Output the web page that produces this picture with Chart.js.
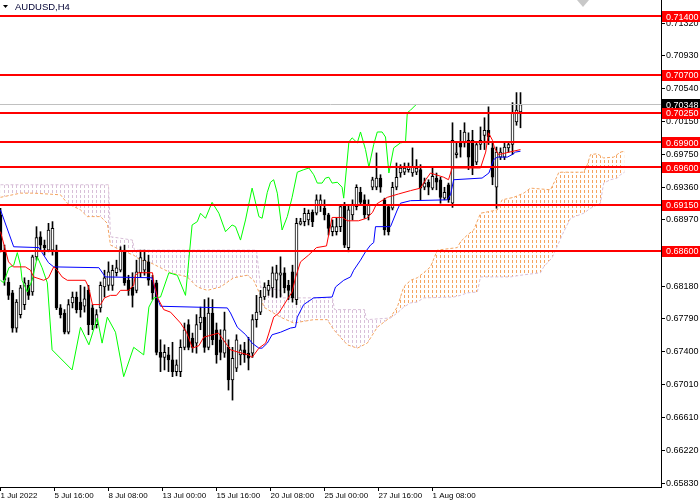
<!DOCTYPE html>
<html>
<head>
<meta charset="utf-8">
<title>AUDUSD,H4</title>
<script src="https://cdn.jsdelivr.net/npm/chart.js"></script>
<style>
html, body { margin: 0; padding: 0; background: #fff; }
#chart1 { display: block; }
</style>
</head>
<body>
<canvas id="chart1" width="700" height="500"></canvas>
<script>
"use strict";

var symbolTitle = 'AUDUSD,H4';

// bar k sits at index k, 4px apart
var opens = [
	0.6903, 0.6861, 0.6823, 0.6810, 0.6768, 0.6784, 0.6796, 0.6819, 0.6811, 0.6853,
	0.6877, 0.6867, 0.6861, 0.6861, 0.6861, 0.6792, 0.6786, 0.6763, 0.6798, 0.6805,
	0.6799, 0.6794, 0.6813, 0.6792, 0.6772, 0.6792, 0.6817, 0.6819, 0.6819, 0.6834,
	0.6837, 0.6861, 0.6825, 0.6817, 0.6813, 0.6834, 0.6837, 0.6847, 0.6825, 0.6822,
	0.6739, 0.6733, 0.6736, 0.6730, 0.6716, 0.6716, 0.6745, 0.6772, 0.6756, 0.6750,
	0.6774, 0.6781, 0.6745, 0.6786, 0.6766, 0.6754, 0.6738, 0.6745, 0.6706, 0.6720,
	0.6736, 0.6742, 0.6738, 0.6738, 0.6778, 0.6787, 0.6805, 0.6813, 0.6816, 0.6825,
	0.6831, 0.6834, 0.6819, 0.6835, 0.6802, 0.6892, 0.6895, 0.6897, 0.6906, 0.6905,
	0.6915, 0.6911, 0.6903, 0.6883, 0.6883, 0.6889, 0.6915, 0.6864, 0.6903, 0.6913,
	0.6930, 0.6921, 0.6903, 0.6936, 0.6936, 0.6947, 0.6921, 0.6913, 0.6911, 0.6936,
	0.6953, 0.6954, 0.6957, 0.6953, 0.6954, 0.6957, 0.6936, 0.6942, 0.6935, 0.6947,
	0.6945, 0.6923, 0.6939, 0.6917, 0.6975, 0.6989, 0.6989, 0.6992, 0.6992, 0.6966,
	0.6987, 0.6998, 0.7004, 0.6983, 0.6936, 0.6972, 0.6972, 0.6983, 0.6987, 0.7014,
	0.7026
];
var highs = [
	0.6911, 0.6867, 0.6828, 0.6813, 0.6802, 0.6819, 0.6828, 0.6825, 0.6855, 0.6889,
	0.6883, 0.6873, 0.6893, 0.6895, 0.6867, 0.6796, 0.6790, 0.6802, 0.6811, 0.6811,
	0.6819, 0.6817, 0.6819, 0.6796, 0.6790, 0.6823, 0.6837, 0.6847, 0.6843, 0.6849,
	0.6865, 0.6867, 0.6831, 0.6834, 0.6849, 0.6861, 0.6861, 0.6855, 0.6831, 0.6825,
	0.6754, 0.6748, 0.6745, 0.6751, 0.6730, 0.6754, 0.6774, 0.6778, 0.6762, 0.6784,
	0.6793, 0.6802, 0.6804, 0.6802, 0.6774, 0.6766, 0.6787, 0.6754, 0.6745, 0.6760,
	0.6748, 0.6751, 0.6757, 0.6784, 0.6807, 0.6813, 0.6822, 0.6825, 0.6841, 0.6843,
	0.6853, 0.6840, 0.6825, 0.6843, 0.6899, 0.6899, 0.6911, 0.6909, 0.6909, 0.6927,
	0.6927, 0.6921, 0.6905, 0.6897, 0.6899, 0.6915, 0.6918, 0.6915, 0.6921, 0.6939,
	0.6936, 0.6927, 0.6921, 0.6948, 0.6977, 0.6951, 0.6923, 0.6915, 0.6942, 0.6965,
	0.6963, 0.6965, 0.6965, 0.6983, 0.6969, 0.6963, 0.6947, 0.6945, 0.6959, 0.6953,
	0.6948, 0.6936, 0.6941, 0.7013, 0.6989, 0.7004, 0.7013, 0.7001, 0.7004, 0.6989,
	0.7008, 0.7019, 0.7032, 0.6989, 0.6984, 0.6983, 0.6989, 0.6989, 0.7037, 0.7049,
	0.7049
];
var lows = [
	0.6859, 0.6819, 0.6802, 0.6763, 0.6763, 0.6780, 0.6790, 0.6802, 0.6807, 0.6849,
	0.6861, 0.6855, 0.6859, 0.6855, 0.6790, 0.6780, 0.6761, 0.6761, 0.6792, 0.6786,
	0.6781, 0.6787, 0.6760, 0.6766, 0.6768, 0.6787, 0.6805, 0.6813, 0.6813, 0.6830,
	0.6835, 0.6819, 0.6807, 0.6793, 0.6810, 0.6829, 0.6831, 0.6819, 0.6802, 0.6736,
	0.6716, 0.6718, 0.6716, 0.6710, 0.6711, 0.6710, 0.6742, 0.6742, 0.6739, 0.6738,
	0.6766, 0.6739, 0.6742, 0.6748, 0.6726, 0.6730, 0.6733, 0.6694, 0.6682, 0.6716,
	0.6724, 0.6727, 0.6718, 0.6733, 0.6769, 0.6784, 0.6802, 0.6807, 0.6805, 0.6804,
	0.6805, 0.6810, 0.6802, 0.6799, 0.6796, 0.6891, 0.6890, 0.6891, 0.6889, 0.6903,
	0.6907, 0.6897, 0.6879, 0.6878, 0.6879, 0.6883, 0.6864, 0.6859, 0.6897, 0.6909,
	0.6915, 0.6899, 0.6897, 0.6933, 0.6933, 0.6930, 0.6879, 0.6879, 0.6909, 0.6933,
	0.6948, 0.6951, 0.6954, 0.6949, 0.6951, 0.6921, 0.6933, 0.6927, 0.6933, 0.6933,
	0.6917, 0.6921, 0.6918, 0.6912, 0.6971, 0.6972, 0.6984, 0.6957, 0.6951, 0.6963,
	0.6981, 0.6981, 0.6987, 0.6939, 0.6911, 0.6969, 0.6969, 0.6978, 0.6975, 0.7010,
	0.7007
];
var closes = [
	0.6861, 0.6825, 0.6807, 0.6768, 0.6799, 0.6816, 0.6822, 0.6807, 0.6853, 0.6876,
	0.6867, 0.6864, 0.6885, 0.6887, 0.6792, 0.6784, 0.6763, 0.6796, 0.6805, 0.6790,
	0.6790, 0.6803, 0.6772, 0.6772, 0.6784, 0.6819, 0.6828, 0.6835, 0.6837, 0.6840,
	0.6861, 0.6822, 0.6813, 0.6807, 0.6835, 0.6852, 0.6849, 0.6825, 0.6810, 0.6739,
	0.6733, 0.6739, 0.6730, 0.6716, 0.6724, 0.6745, 0.6766, 0.6745, 0.6745, 0.6772,
	0.6781, 0.6745, 0.6786, 0.6754, 0.6736, 0.6739, 0.6766, 0.6706, 0.6732, 0.6754,
	0.6742, 0.6736, 0.6732, 0.6778, 0.6787, 0.6805, 0.6817, 0.6819, 0.6834, 0.6834,
	0.6834, 0.6816, 0.6813, 0.6804, 0.6893, 0.6895, 0.6905, 0.6905, 0.6895, 0.6921,
	0.6921, 0.6903, 0.6887, 0.6889, 0.6889, 0.6913, 0.6867, 0.6909, 0.6915, 0.6936,
	0.6918, 0.6903, 0.6915, 0.6945, 0.6947, 0.6936, 0.6885, 0.6883, 0.6936, 0.6948,
	0.6959, 0.6959, 0.6960, 0.6960, 0.6959, 0.6935, 0.6941, 0.6936, 0.6949, 0.6942,
	0.6924, 0.6930, 0.6921, 0.6992, 0.6977, 0.6984, 0.7002, 0.6972, 0.6960, 0.6987,
	0.6992, 0.7004, 0.6996, 0.6948, 0.6978, 0.6978, 0.6984, 0.6987, 0.7025, 0.7028,
	0.70348
];

// ichimoku lines, [bar, price]
var tenkan = [
	[0,0.6883],[2,0.6847],[3.2,0.6841],[6.2,0.6841],[7.5,0.6837],[8.3,0.6829],[10.8,0.6825],[12,0.6828],
	[13.3,0.6841],[14.2,0.6837],[15.4,0.6829],[16.7,0.6825],[21.2,0.6825],[22,0.6817],[23,0.6796],[25,0.6796],
	[26,0.6804],[27.5,0.6807],[29,0.6807],[30,0.6813],[32,0.6813],[33.3,0.6819],[33.7,0.6831],[34.5,0.6834],
	[38,0.6834],[38.3,0.6822],[39.3,0.6804],[40.8,0.6790],[42.5,0.6787],[45,0.6774],[46.5,0.6763],[48,0.6744],
	[49.6,0.6747],[50.8,0.6757],[54.5,0.6762],[57.5,0.6742],[59.6,0.6739],[62,0.6736],[62.9,0.6733],[64.6,0.6744],
	[66.3,0.6750],[67.1,0.6762],[68.3,0.6781],[69.6,0.6786],[71.3,0.6799],[72.9,0.6811],[73.8,0.6829],[75,0.6847],
	[77,0.6855],[79,0.6864],[81.5,0.6866],[82.9,0.6900],[85.5,0.6900],[86.7,0.6896],[89.5,0.6896],[91.5,0.6899],
	[93,0.6906],[94,0.6916],[96.7,0.6924],[99.5,0.6928],[102.5,0.6932],[105,0.6935],[106.3,0.6945],[107.5,0.6953],
	[108.8,0.6951],[110.8,0.6948],[112,0.6945],[112.9,0.6959],[120,0.6959],[121.3,0.6978],[122,0.7001],[123,0.6992],
	[123.5,0.6983],[124.5,0.6975],[130,0.6981]
];
var kijun = [
	[0,0.6909],[3.3,0.6865],[9.6,0.6864],[10.4,0.6858],[12,0.6846],[13.3,0.6841],[24.6,0.6840],[26.2,0.6829],
	[37.9,0.6828],[39.2,0.6804],[40,0.6794],[56.7,0.6792],[57.5,0.6786],[59.2,0.6769],[61.3,0.6760],[62.9,0.6750],
	[64.6,0.6744],[65.4,0.6744],[66.7,0.6750],[67.9,0.6760],[70,0.6763],[72.5,0.6768],[73.75,0.6769],[74.2,0.6781],
	[75.8,0.6796],[78.3,0.6804],[82.9,0.6805],[83.75,0.6817],[85.8,0.6825],[87.5,0.6829],[88.3,0.6837],[90,0.6849],
	[91.25,0.6859],[92.5,0.6867],[93.3,0.6870],[93.75,0.6889],[97.5,0.6889],[99.2,0.6909],[100,0.6917],[102.5,0.6920],
	[111.7,0.6921],[112.5,0.6927],[113.3,0.6945],[120.4,0.6947],[122.1,0.6953],[123.3,0.6969],[124.2,0.6972],[126.7,0.6972],
	[127.9,0.6975],[128.75,0.6978],[130,0.6979]
];
var chikou = [
	[0,0.6825],[0.8,0.6822],[2.1,0.6840],[3.3,0.6843],[4.2,0.6858],[5,0.6843],[5.4,0.6825],[6.7,0.6811],
	[7.9,0.6825],[9.2,0.6853],[10.4,0.6840],[11.7,0.6822],[12.9,0.6742],[17.9,0.6718],[20,0.6769],[22.1,0.6748],
	[24.2,0.6780],[25.4,0.6750],[26.7,0.6781],[28.75,0.6763],[30.8,0.6710],[33.3,0.6745],[35.8,0.6736],[37.1,0.6793],
	[38.3,0.6804],[40,0.6805],[42.1,0.6834],[44.2,0.6831],[46.25,0.6807],[47.9,0.6891],[49.2,0.6895],[50,0.6905],
	[51.25,0.6899],[52.9,0.6918],[54.6,0.6905],[56.25,0.6883],[57.9,0.6891],[58.75,0.6889],[60,0.6873],[61.25,0.6897],
	[62.9,0.6935],[64.6,0.6901],[65.4,0.6899],[66.7,0.6930],[67.5,0.6942],[68.3,0.6945],[69.2,0.6929],[70.4,0.6885],
	[71.7,0.6901],[72.9,0.6924],[74.2,0.6954],[75.8,0.6957],[77.1,0.6959],[78.3,0.6951],[79.2,0.6941],[80.4,0.6941],
	[81.25,0.6947],[82.1,0.6948],[82.9,0.6941],[84.2,0.6942],[85.4,0.6936],[85.8,0.6923],[87.1,0.6990],[87.9,0.6995],
	[89.2,0.6989],[90,0.7002],[91.25,0.6981],[92.1,0.6960],[93.3,0.6987],[94.2,0.7002],[95.4,0.7002],[96.25,0.6996],
	[97.1,0.6953],[98.3,0.6983],[100,0.6989],[101.25,0.6990],[101.7,0.7025],[102.5,0.7028],[103.75,0.7034],[104,0.70348]
];
var spanA = [
	[0,0.6924],[5,0.6929],[8.3,0.6929],[15,0.6927],[16.7,0.6917],[20,0.6909],[21.7,0.6901],[25,0.6901],
	[26.7,0.6893],[27.5,0.6867],[30,0.6861],[33.3,0.6855],[35,0.6849],[37.5,0.6846],[40,0.6840],[42.5,0.6834],
	[46.7,0.6829],[49.2,0.6817],[51.7,0.6813],[55,0.6817],[58.3,0.6828],[61.7,0.6831],[63.3,0.6825],[65,0.6807],
	[65.8,0.6793],[70,0.6781],[73.3,0.6774],[78.3,0.6778],[81.7,0.6778],[83.3,0.6766],[86.7,0.6748],[89.2,0.6744],
	[91.7,0.6750],[94.2,0.6769],[97.5,0.6781],[99.2,0.6793],[100.8,0.6817],[102.5,0.6825],[104.2,0.6828],[105.8,0.6834],
	[107.5,0.6841],[109.2,0.6861],[114.2,0.6864],[115,0.6871],[116.7,0.6879],[118.3,0.6885],[120,0.6905],[124.2,0.6909],
	[125.4,0.6921],[128.3,0.6924],[130.8,0.6929],[132.5,0.6935],[137.5,0.6933],[138.75,0.6945],[139.6,0.6954],[145.8,0.6954],
	[146.7,0.6963],[147.5,0.6975],[149.2,0.6976],[150.8,0.6971],[153.3,0.6972],[155,0.6978],[156,0.6979]
];
var spanB = [
	[0,0.6939],[27,0.6939],[27.5,0.6877],[33,0.6873],[33.5,0.6861],[64,0.6861],[65,0.6817],[70,0.6813],
	[70.5,0.6804],[83,0.6804],[83.5,0.6790],[91,0.6790],[91.5,0.6778],[97.5,0.6780],[99.2,0.6786],[100.8,0.6793],
	[102.5,0.6798],[104.2,0.6799],[105.8,0.6804],[113.3,0.6805],[115,0.6807],[116.7,0.6810],[119.2,0.6811],[120,0.6829],
	[127.5,0.6829],[130,0.6831],[135,0.6834],[135.8,0.6841],[137.9,0.6852],[138.75,0.6861],[140.8,0.6883],[142.5,0.6899],
	[145.8,0.6905],[147.5,0.6911],[150,0.6917],[150.4,0.6930],[150.8,0.6941],[152.5,0.6945],[154.2,0.6947],[155,0.6951],
	[156,0.6954]
];

var levels = [0.71400, 0.70700, 0.70250, 0.69900, 0.69600, 0.69150, 0.68600];
var bidPrice = 0.70348;
var priceTicks = [0.65830, 0.66220, 0.66610, 0.67010, 0.67400, 0.67790, 0.68180, 0.68580,
	0.68970, 0.69360, 0.69750, 0.70150, 0.70540, 0.70930, 0.71320];
var timeLabels = ['1 Jul 2022', '5 Jul 16:00', '8 Jul 08:00', '13 Jul 00:00', '15 Jul 16:00',
	'20 Jul 08:00', '25 Jul 00:00', '27 Jul 16:00', '1 Aug 08:00'];
var timeTickBars = [0, 13.5, 27, 40.5, 54, 67.5, 81, 94.5, 108];

var FONT = '"Liberation Sans", Arial, sans-serif';

var ctx = document.getElementById('chart1').getContext('2d');

// MT4 style dotted cloud columns
function hatch(color) {
	var c = document.createElement('canvas');
	c.width = 4;
	c.height = 5;
	var g = c.getContext('2d');
	g.fillStyle = color;
	g.fillRect(0, 0, 1, 3);
	return ctx.createPattern(c, 'repeat');
}

var wicks = [], bodies = [], bodyColors = [];
for (var i = 0; i < opens.length; i++) {
	wicks.push({ x: i, y: [lows[i], highs[i]] });
	bodies.push({ x: i, y: [opens[i], closes[i]] });
	bodyColors.push(closes[i] >= opens[i] ? '#ffffff' : '#000000');
}

var overlay = {
	id: 'overlay',
	afterDatasetsDraw: function(chart) {
		var c = chart.ctx, a = chart.chartArea, y = chart.scales.y;
		c.save();
		var by = Math.round(y.getPixelForValue(bidPrice)) + 0.5;
		c.strokeStyle = '#c0c0c0';
		c.lineWidth = 1;
		c.beginPath(); c.moveTo(a.left, by); c.lineTo(a.right, by); c.stroke();
		c.strokeStyle = '#ff0000';
		c.lineWidth = 2;
		levels.forEach(function(v) {
			var py = Math.round(y.getPixelForValue(v));
			c.beginPath(); c.moveTo(a.left, py); c.lineTo(a.right, py); c.stroke();
		});
		c.restore();
	},
	afterDraw: function(chart) {
		var c = chart.ctx, a = chart.chartArea, y = chart.scales.y;
		c.save();
		c.font = '9px ' + FONT;
		c.textBaseline = 'middle';
		function tag(v, bg) {
			var py = y.getPixelForValue(v);
			c.fillStyle = bg;
			c.fillRect(a.right + 1, Math.round(py) - 5, chart.width - a.right - 1, 11);
			c.fillStyle = '#ffffff';
			c.fillText(v.toFixed(5), a.right + 5, py + 1);
		}
		tag(bidPrice, '#000000');
		levels.forEach(function(v) { tag(v, '#ff0000'); });

		// title
		c.fillStyle = '#000000';
		c.beginPath(); c.moveTo(3, 5); c.lineTo(8, 5); c.lineTo(5.5, 8); c.closePath(); c.fill();
		c.font = '9.5px ' + FONT;
		c.fillStyle = '#000033';
		c.fillText(symbolTitle, 15, 7.5);

		// chart shift marker
		c.fillStyle = '#c8c8c8';
		c.beginPath(); c.moveTo(577, 0); c.lineTo(589, 0); c.lineTo(583, 7); c.closePath(); c.fill();
		c.restore();
	}
};

var myChart = new Chart(ctx, {
	type: 'bar',
	data: {
		datasets: [{
			type: 'line',
			label: 'Senkou Span A',
			data: spanA,
			borderColor: '#f4a460',
			borderWidth: 1,
			borderDash: [3, 2],
			pointRadius: 0,
			tension: 0,
			fill: {
				target: 1,
				above: hatch('#f4a460'),
				below: hatch('#d8bfd8')
			},
			order: 10
		},
		{
			type: 'line',
			label: 'Senkou Span B',
			data: spanB,
			borderColor: '#d8bfd8',
			borderWidth: 1,
			borderDash: [3, 2],
			pointRadius: 0,
			tension: 0,
			fill: false,
			order: 9
		},
		{
			label: 'Wicks',
			data: wicks,
			backgroundColor: '#000000',
			barThickness: 1,
			grouped: false,
			order: 6
		},
		{
			label: 'Bodies',
			data: bodies,
			backgroundColor: bodyColors,
			borderColor: '#000000',
			borderWidth: 1,
			borderSkipped: false,
			barThickness: 3,
			grouped: false,
			order: 5
		},
		{
			type: 'line',
			label: 'Chikou Span',
			data: chikou,
			borderColor: '#00ff00',
			borderWidth: 1,
			pointRadius: 0,
			tension: 0,
			fill: false,
			order: 3
		},
		{
			type: 'line',
			label: 'Kijun-sen',
			data: kijun,
			borderColor: '#0000ff',
			borderWidth: 1,
			pointRadius: 0,
			tension: 0,
			fill: false,
			order: 2
		},
		{
			type: 'line',
			label: 'Tenkan-sen',
			data: tenkan,
			borderColor: '#ff0000',
			borderWidth: 1,
			pointRadius: 0,
			tension: 0,
			fill: false,
			order: 1
		}]
	},
	options: {
		responsive: false,
		animation: false,
		layout: { padding: 0 },
		events: [],
		plugins: {
			legend: { display: false },
			tooltip: { enabled: false }
		},
		scales: {
			x: {
				type: 'linear',
				min: -0.125,
				max: 165.125,
				offset: false,
				grid: {
					display: true,
					offset: false,
					drawOnChartArea: false,
					tickLength: 4,
					color: '#000000'
				},
				border: { display: true, color: '#000000' },
				ticks: {
					align: 'start',
					autoSkip: false,
					maxRotation: 0,
					padding: 0,
					color: '#000000',
					font: { family: FONT, size: 8 },
					callback: function(v, i) { return timeLabels[i]; }
				},
				afterBuildTicks: function(s) {
					s.ticks = timeTickBars.map(function(v) { return { value: v }; });
				},
				afterFit: function(s) {
					s.height = 13;
					s.paddingLeft = 0;
					s.paddingRight = 0;
				}
			},
			y: {
				type: 'linear',
				position: 'right',
				min: 0.65783,
				max: 0.71595,
				grid: {
					display: true,
					drawOnChartArea: false,
					tickLength: 4,
					color: '#000000'
				},
				border: { display: true, color: '#000000' },
				ticks: {
					autoSkip: false,
					padding: 1,
					color: '#000000',
					font: { family: FONT, size: 9 },
					callback: function(v) { return v.toFixed(5); }
				},
				afterBuildTicks: function(s) {
					s.ticks = priceTicks.map(function(v) { return { value: v }; });
				},
				afterFit: function(s) {
					s.width = 39;
					s.paddingTop = 0;
					s.paddingBottom = 0;
				}
			}
		}
	},
	plugins: [overlay]
});
</script>
</body>
</html>
